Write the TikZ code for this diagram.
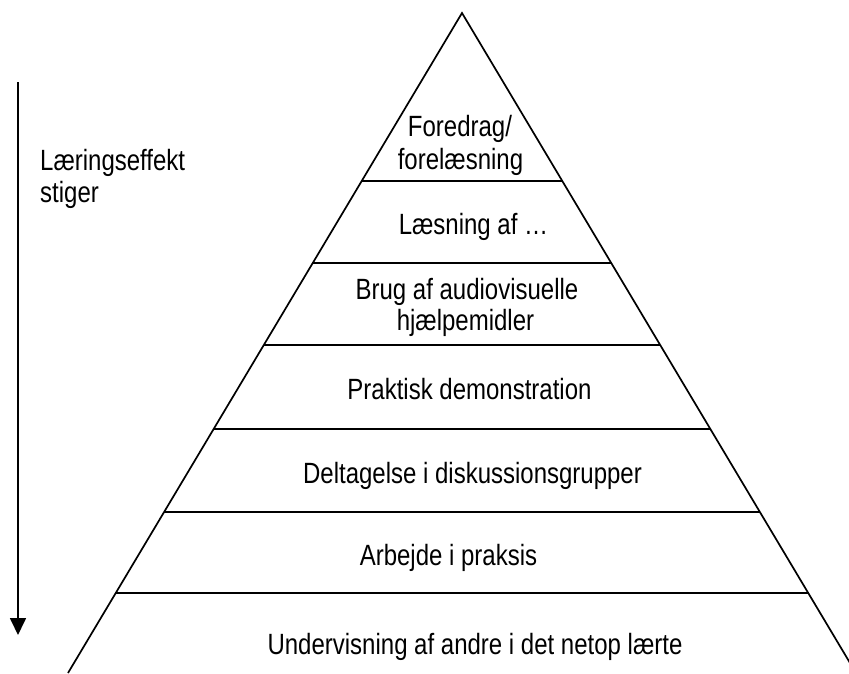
\documentclass[tikz,border=0pt]{standalone}
\usepackage{fontspec}
\usepackage{graphicx}
\setmainfont{Liberation Sans}
\usetikzlibrary{arrows.meta}
% tall, narrow lettering used for every label
\newcommand{\narrowtxt}[1]{\scalebox{0.819}[1]{#1}}
\tikzset{
  edge/.style={line width=1.7pt, black},
  lbl/.style={anchor=base, inner sep=0pt, font=\fontsize{29.3}{34}\selectfont},
  lbll/.style={lbl, anchor=base west}
}
\begin{document}
\begin{tikzpicture}[x=1pt, y=-1pt]
  \useasboundingbox (0,0) rectangle (849,673);
  \clip (0,0) rectangle (849,673);

  % pyramid outline
  \coordinate (apex) at (462,13);
  \coordinate (bl) at (68,673);
  \coordinate (br) at (856,673);
  \draw[edge, line join=miter] (bl) -- (apex) -- (br);

  % layer dividers, spanning the two sides
  \foreach \yy in {181,263,345,429,512,593} {
    \draw[edge] ({462-0.597*(\yy-13)},\yy) -- ({462+0.597*(\yy-13)},\yy);
  }

  % layer labels
  \node[lbl] (l1a) at (460,136) {\narrowtxt{Foredrag/}};
  \node[lbl] (l1b) at (460.5,169) {\narrowtxt{forelæsning}};
  \node[lbl] (l2)  at (473.5,234) {\narrowtxt{Læsning af …}};
  \node[lbl] (l3a) at (467,299) {\narrowtxt{Brug af audiovisuelle}};
  \node[lbl] (l3b) at (465.5,330) {\narrowtxt{hjælpemidler}};
  \node[lbl] (l4)  at (469.5,399) {\narrowtxt{Praktisk demonstration}};
  \node[lbl] (l5)  at (472.5,483) {\narrowtxt{Deltagelse i diskussionsgrupper}};
  \node[lbl] (l6)  at (448.5,565) {\narrowtxt{Arbejde i praksis}};
  \node[lbl] (l7)  at (475,654) {\narrowtxt{Undervisning af andre i det netop lærte}};

  % side arrow and its caption
  \coordinate (atop) at (18,82);
  \coordinate (abot) at (18,635);
  \draw[edge, -{Triangle[width=16pt,length=17pt]}] (atop) -- (abot);
  \node[lbll] (cap1) at (40,170) {\narrowtxt{Læringseffekt}};
  \node[lbll] (cap2) at (40,202) {\narrowtxt{stiger}};
\end{tikzpicture}
\end{document}
